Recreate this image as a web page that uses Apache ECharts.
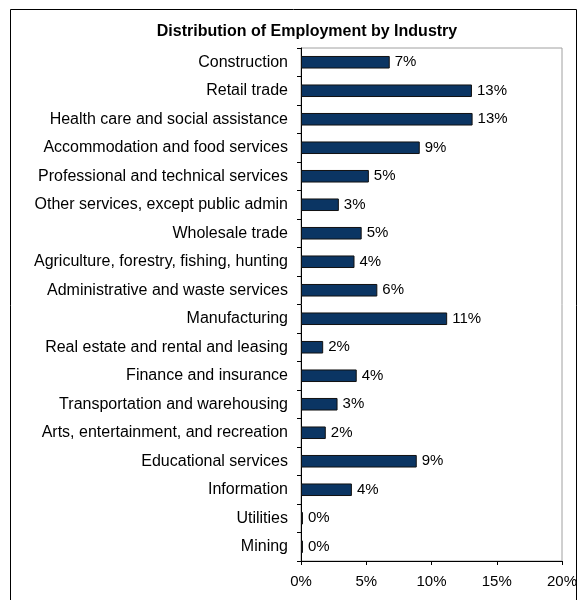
<!DOCTYPE html>
<html><head><meta charset="utf-8">
<script src="https://cdn.jsdelivr.net/npm/echarts@6/dist/echarts.min.js"></script>
<style>html,body{margin:0;padding:0;background:#fff}#c{width:587px;height:600px}</style>
</head><body><div id="c"></div>
<script>
const titleText = "Distribution of Employment by Industry";
const categories = [
  "Construction","Retail trade","Health care and social assistance","Accommodation and food services",
  "Professional and technical services","Other services, except public admin","Wholesale trade",
  "Agriculture, forestry, fishing, hunting","Administrative and waste services","Manufacturing",
  "Real estate and rental and leasing","Finance and insurance","Transportation and warehousing",
  "Arts, entertainment, and recreation","Educational services","Information","Utilities","Mining"
];
const shares = [6.8,13.1,13.15,9.1,5.2,2.9,4.65,4.1,5.85,11.2,1.7,4.27,2.8,1.9,8.87,3.9,0.15,0.15];
const xTicks = [0,5,10,15,20];

const chart = echarts.init(document.getElementById('c'));
chart.setOption({
  animation:false,
  backgroundColor:'#fff',
  title:{text:titleText,left:302,textAlign:'center',top:19,
    textStyle:{fontFamily:'Liberation Sans, Arial',fontSize:16,fontWeight:'bold',color:'#000'}},
  graphic:[{type:'rect',shape:{x:10.5,y:9.5,width:566,height:640},
    style:{fill:'none',stroke:'#000',lineWidth:1},silent:true}],
  grid:{left:301,right:25,top:48,bottom:39,show:true,borderColor:'#a0a0a0',borderWidth:1},
  xAxis:{type:'value',min:0,max:20,interval:5,
    axisLine:{show:true,lineStyle:{color:'#000'}},
    axisTick:{show:true,length:4,lineStyle:{color:'#000'}},
    splitLine:{show:false},
    axisLabel:{formatter:v=>xTicks.includes(v)?v+'%':'',fontFamily:'Liberation Sans, Arial',fontSize:15,color:'#000',margin:13}},
  yAxis:{type:'category',data:categories,inverse:true,
    axisLine:{show:true,lineStyle:{color:'#000'}},
    axisTick:{show:true,length:4,lineStyle:{color:'#000'}},
    axisLabel:{fontFamily:'Liberation Sans, Arial',fontSize:16,color:'#000',margin:13}},
  series:[{type:'bar',data:shares,barCategoryGap:'56%',
    itemStyle:{color:'#0b3563',borderColor:'#111',borderWidth:1},
    label:{show:true,position:'right',distance:5,formatter:p=>Math.round(p.value)+'%',
      fontFamily:'Liberation Sans, Arial',fontSize:15,color:'#000'}}]
});
</script></body></html>
